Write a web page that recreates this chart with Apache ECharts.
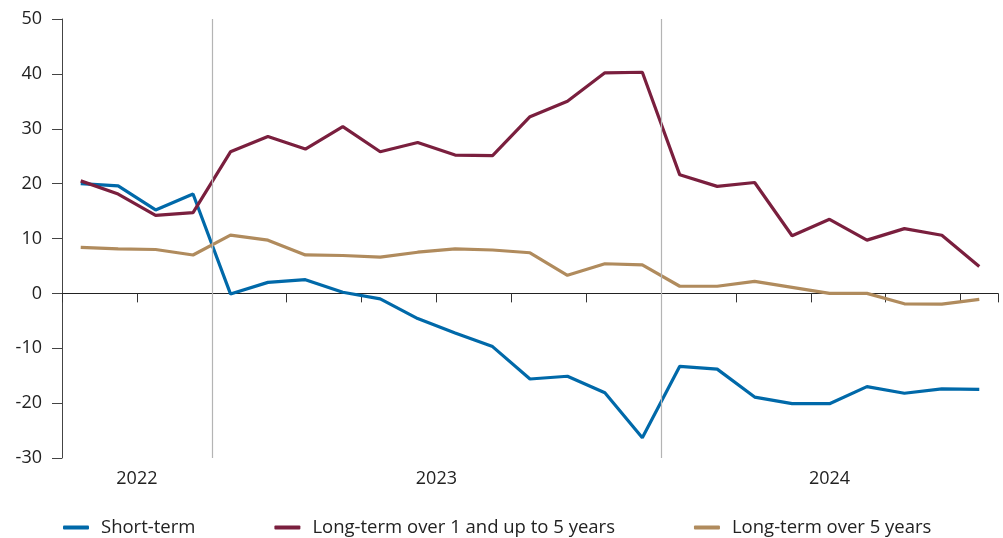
<!DOCTYPE html>
<html>
<head>
<meta charset="utf-8">
<script src="https://cdn.jsdelivr.net/npm/echarts@6/dist/echarts.min.js"></script>
<style>
  html, body { margin: 0; padding: 0; background: #fff; }
  #chart { width: 1003px; height: 538px; }
</style>
</head>
<body>
<div id="chart"></div>
<script>
const months = [
  'Sep 2022', 'Oct 2022', 'Nov 2022', 'Dec 2022',
  'Jan 2023', 'Feb 2023', 'Mar 2023', 'Apr 2023', 'May 2023', 'Jun 2023',
  'Jul 2023', 'Aug 2023', 'Sep 2023', 'Oct 2023', 'Nov 2023', 'Dec 2023',
  'Jan 2024', 'Feb 2024', 'Mar 2024', 'Apr 2024', 'May 2024', 'Jun 2024',
  'Jul 2024', 'Aug 2024', 'Sep 2024'
]

const shortTerm = [
  20.0, 19.6, 15.2, 18.1, -0.1, 2.0, 2.5, 0.2, -1.0, -4.6, -7.2, -9.7,
  -15.6, -15.1, -18.1, -26.3, -13.3, -13.8, -18.9, -20.1, -20.1, -17.0,
  -18.2, -17.4, -17.5
]
const longTerm1to5 = [
  20.5, 18.1, 14.2, 14.7, 25.8, 28.6, 26.3, 30.4, 25.8, 27.5, 25.2, 25.1,
  32.2, 35.0, 40.2, 40.3, 21.6, 19.5, 20.2, 10.5, 13.5, 9.7, 11.8, 10.6, 4.9
]
const longTermOver5 = [
  8.4, 8.1, 8.0, 7.0, 10.6, 9.7, 7.0, 6.9, 6.6, 7.5, 8.1, 7.9,
  7.4, 3.3, 5.4, 5.2, 1.3, 1.3, 2.2, 1.1, 0.0, 0.0, -1.9, -1.95, -1.1
]

// year labels sit at the middle of each year's month span (in month units from axis start)
const yearLabels = ['2022', '2023', '2024']
const yearCenters = [2, 10, 20.5]
const yearBreaks = [4, 16]

const FONT = '"Open Sans", "Noto Sans", sans-serif'
const chart = echarts.init(document.getElementById('chart'), null, { renderer: 'canvas' })

chart.setOption({
  animation: false,
  textStyle: { fontFamily: FONT },
  grid: { left: 62, right: 5, top: 19, bottom: 80, containLabel: false },
  legend: {
    left: 63,
    top: 518,
    padding: 0,
    icon: 'roundRect',
    itemWidth: 26,
    itemHeight: 4,
    itemGap: 79,
    textStyle: { color: '#222', fontSize: 18.5, fontFamily: FONT, padding: [0, 0, 0, 7] },
    data: ['Short-term', 'Long-term over 1 and up to 5 years', 'Long-term over 5 years']
  },
  xAxis: [
    {
      type: 'category',
      data: months,
      boundaryGap: true,
      axisLine: { onZero: true, lineStyle: { color: '#222', width: 1 } },
      axisTick: { show: true, length: 9, lineStyle: { color: '#333' } },
      axisLabel: { show: false },
      splitLine: { show: false }
    },
    {
      type: 'value',
      min: 0,
      max: months.length,
      position: 'bottom',
      axisLine: { show: false, onZero: false },
      axisTick: { show: false },
      splitLine: { show: false },
      axisLabel: {
        customValues: yearCenters,
        margin: 12,
        color: '#222',
        fontSize: 18,
        fontFamily: FONT,
        formatter: (value) => yearLabels[yearCenters.indexOf(value)] || ''
      }
    }
  ],
  yAxis: {
    type: 'value',
    min: -30,
    max: 50,
    interval: 10,
    axisLine: { show: true, lineStyle: { color: '#444', width: 1 } },
    axisTick: { show: true, length: 10, lineStyle: { color: '#444' } },
    axisLabel: { color: '#222', fontSize: 18, fontFamily: FONT, margin: 20 },
    splitLine: { show: false }
  },
  series: [
    {
      name: 'breaks',
      type: 'line',
      xAxisIndex: 1,
      data: [],
      silent: true,
      markLine: {
        silent: true,
        symbol: 'none',
        label: { show: false },
        lineStyle: { color: '#b4b4b4', width: 1.2, type: 'solid' },
        data: yearBreaks.map((x) => ({ xAxis: x }))
      }
    },
    {
      name: 'Short-term',
      type: 'line',
      data: shortTerm,
      showSymbol: false,
      lineStyle: { color: '#0069a9', width: 3.2 },
      itemStyle: { color: '#0069a9' }
    },
    {
      name: 'Long-term over 1 and up to 5 years',
      type: 'line',
      data: longTerm1to5,
      showSymbol: false,
      lineStyle: { color: '#7a1f3e', width: 3.2 },
      itemStyle: { color: '#7a1f3e' }
    },
    {
      name: 'Long-term over 5 years',
      type: 'line',
      data: longTermOver5,
      showSymbol: false,
      lineStyle: { color: '#b08b5d', width: 3.2 },
      itemStyle: { color: '#b08b5d' }
    }
  ]
})
</script>
</body>
</html>
